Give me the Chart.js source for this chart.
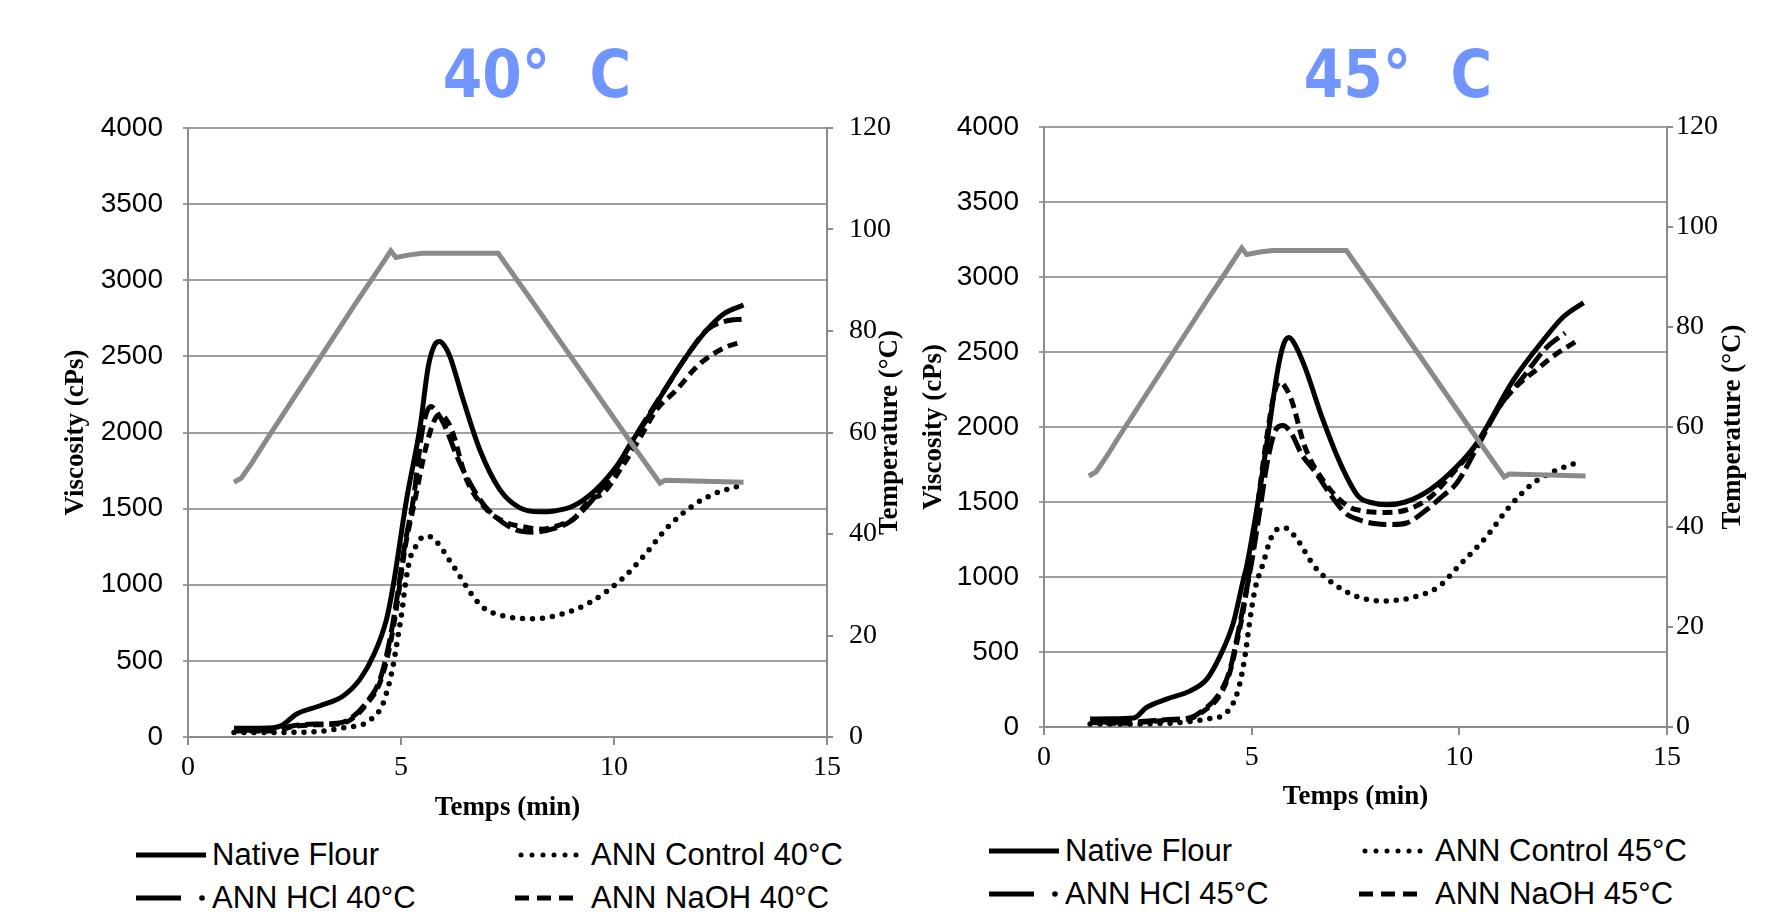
<!DOCTYPE html>
<html>
<head>
<meta charset="utf-8">
<script src="https://cdn.jsdelivr.net/npm/chart.js@4.4.1/dist/chart.umd.min.js"></script>
<style>
    html, body { margin: 0; padding: 0; background: #fff; }
    body { width: 1776px; height: 919px; position: relative; overflow: hidden; font-family: "Liberation Sans", Arial, sans-serif; }
    canvas { position: absolute; top: 0; }
    #chart40 { left: 0; }
    #chart45 { left: 912px; }
    .leg-item { position: absolute; display: flex; align-items: center; height: 40px; font-size: 31px; color: #000; white-space: nowrap; }
    .leg-item svg { margin-right: 6px; flex: none; }
</style>
</head>
<body>
<canvas id="chart40" width="912" height="830"></canvas>
<canvas id="chart45" width="864" height="830"></canvas>
<div id="legend40"></div>
<div id="legend45"></div>

<script>
// Sumbu
const timeTicks = [0, 5, 10, 15];
const viscTicks = [0, 500, 1000, 1500, 2000, 2500, 3000, 3500, 4000];
const tempTicks = [0, 20, 40, 60, 80, 100, 120];

const labels40 = ['Native Flour', 'ANN Control 40°C', 'ANN HCl 40°C', 'ANN NaOH 40°C'];
const labels45 = ['Native Flour', 'ANN Control 45°C', 'ANN HCl 45°C', 'ANN NaOH 45°C'];

// Profil suhu (sama untuk kedua uji)
const tempT = [1.08, 1.25, 1.5, 1.8, 2.5, 3.2, 3.9, 4.5, 4.76, 4.88, 5.2, 5.5, 7.28, 8.0, 9.0, 10.0, 10.5, 11.08, 11.2, 13.04];
const tempV = [50.2, 51, 54, 58, 67, 76, 85, 92.5, 95.8, 94.5, 95, 95.3, 95.3, 86.8, 74.8, 62.8, 56.8, 50.0, 50.6, 50.2];

// 40°C
const native40T = [1.08, 1.5, 2.0, 2.2, 2.55, 3.1, 3.65, 4.04, 4.35, 4.66, 4.82, 5.13, 5.45, 5.64, 5.78, 5.9, 6.02, 6.15, 6.46, 6.85, 7.32, 7.79, 8.26, 8.6, 9.03, 9.56, 10.08, 10.45, 10.74, 11.24, 11.7, 12.18, 12.58, 13.04];
const native40V = [57, 57, 60, 75, 151, 205, 271, 380, 533, 773, 1000, 1560, 2040, 2433, 2570, 2597, 2570, 2499, 2215, 1887, 1625, 1505, 1479, 1485, 1515, 1620, 1786, 1953, 2072, 2302, 2500, 2674, 2780, 2837];
const control40T = [1.08, 2.0, 3.0, 3.73, 4.12, 4.35, 4.55, 4.66, 4.78, 4.86, 4.94, 5.02, 5.1, 5.21, 5.33, 5.49, 5.65, 5.8, 5.92, 6.07, 6.23, 6.38, 6.65, 6.93, 7.45, 8.11, 8.77, 9.43, 10.22, 10.73, 11.26, 11.89, 12.37, 12.92];
const control40V = [30, 30, 35, 64, 85, 129, 200, 290, 420, 540, 680, 820, 1000, 1170, 1243, 1309, 1318, 1290, 1254, 1188, 1122, 1057, 940, 850, 792, 777, 807, 883, 1046, 1199, 1378, 1527, 1599, 1647];
const hcl40T = [1.08, 2.0, 2.5, 3.0, 3.5, 3.8, 4.19, 4.51, 4.74, 4.9, 5.1, 5.29, 5.49, 5.6, 5.7, 5.8, 6.0, 6.38, 6.85, 7.2, 7.7, 8.1, 8.6, 9.0, 9.5, 10.0, 10.45, 11.24, 11.7, 12.18, 12.6, 13.04];
const hcl40V = [45, 45, 75, 85, 90, 118, 227, 380, 642, 904, 1280, 1560, 2000, 2130, 2170, 2150, 2060, 1800, 1560, 1450, 1360, 1345, 1370, 1420, 1560, 1740, 1953, 2302, 2500, 2674, 2730, 2745];
const naoh40T = [1.08, 2.0, 2.5, 3.0, 3.5, 3.8, 4.19, 4.51, 4.74, 4.9, 5.1, 5.3, 5.6, 5.8, 5.92, 6.05, 6.2, 6.54, 7.01, 7.48, 7.9, 8.3, 8.8, 9.04, 9.44, 9.74, 10.2, 10.6, 11.0, 11.47, 11.9, 12.18, 12.65, 12.92];
const naoh40V = [40, 40, 70, 80, 85, 110, 215, 360, 600, 860, 1250, 1520, 1920, 2090, 2117, 2090, 2010, 1690, 1494, 1407, 1380, 1365, 1400, 1430, 1560, 1600, 1780, 1960, 2150, 2280, 2420, 2488, 2564, 2587];

// 45°C
const native45T = [1.11, 1.6, 2.16, 2.47, 2.95, 3.52, 3.92, 4.24, 4.56, 4.8, 4.88, 5.16, 5.4, 5.64, 5.78, 5.9, 6.02, 6.28, 6.69, 7.17, 7.57, 7.9, 8.25, 8.7, 9.29, 9.94, 10.42, 11.3, 12.02, 12.5, 12.99];
const native45V = [53, 55, 60, 131, 186, 241, 319, 474, 696, 983, 1072, 1515, 1958, 2401, 2560, 2596, 2560, 2401, 2068, 1736, 1537, 1495, 1482, 1500, 1581, 1736, 1892, 2312, 2578, 2733, 2829];
const control45T = [1.11, 2.0, 3.0, 3.92, 4.4, 4.68, 4.84, 4.96, 5.08, 5.28, 5.45, 5.63, 5.8, 6.04, 6.48, 6.65, 7.0, 7.47, 8.15, 8.83, 9.51, 9.98, 10.66, 11.18, 11.78, 12.27, 12.79];
const control45V = [20, 20, 25, 53, 98, 252, 474, 718, 917, 1094, 1250, 1320, 1327, 1271, 1083, 1029, 950, 876, 840, 861, 937, 1072, 1271, 1460, 1626, 1703, 1759];
const hcl45T = [1.11, 2.0, 2.5, 3.0, 3.5, 3.76, 4.24, 4.48, 4.64, 4.8, 5.0, 5.2, 5.4, 5.6, 5.75, 5.95, 6.2, 6.53, 6.93, 7.25, 7.6, 8.0, 8.4, 8.73, 9.21, 9.6, 9.94, 10.4, 11.0, 11.5, 12.1, 12.55];
const hcl45V = [35, 30, 40, 50, 60, 98, 230, 385, 585, 806, 1100, 1450, 1800, 1990, 2010, 1960, 1820, 1700, 1537, 1427, 1380, 1355, 1350, 1360, 1448, 1540, 1626, 1850, 2150, 2320, 2530, 2627];
const naoh45T = [1.11, 2.0, 2.5, 3.0, 3.5, 3.76, 4.24, 4.48, 4.64, 4.8, 5.0, 5.2, 5.4, 5.55, 5.68, 5.8, 5.96, 6.28, 6.77, 7.33, 7.7, 8.2, 8.7, 9.29, 9.8, 10.4, 11.0, 11.37, 11.85, 12.3, 12.79];
const naoh45V = [30, 25, 35, 45, 55, 90, 215, 370, 560, 780, 1150, 1600, 2000, 2230, 2301, 2270, 2179, 1869, 1626, 1470, 1440, 1430, 1445, 1530, 1680, 1880, 2150, 2270, 2380, 2480, 2567];

const SANS = '"Liberation Sans", Arial, sans-serif';
const SERIF = '"Liberation Serif", "Times New Roman", serif';

// gaya garis: solid, titik, garis panjang, garis pendek
const lineStyles = [
    { dash: [], cap: 'butt', width: 5 },
    { dash: [0, 10], cap: 'round', width: 5.5 },
    { dash: [18, 6], cap: 'butt', width: 5 },
    { dash: [10, 6], cap: 'butt', width: 5 }
];

// Judul grafik + judul sumbu kanan (dibaca dari bawah ke atas)
const extraTitles = {
    id: 'extraTitles',
    afterDraw(chart, args, opts) {
        const { ctx, chartArea } = chart;
        ctx.save();
        ctx.textAlign = 'center';
        ctx.textBaseline = 'middle';
        ctx.fillStyle = '#7195ff';
        ctx.font = 'bold 66px "DejaVu Sans"';
        ctx.save();
        ctx.translate(opts.mainX, opts.mainY);
        ctx.scale(0.86, 1);
        ctx.fillText(opts.main, 0, 0);
        ctx.restore();
        ctx.translate(chartArea.right + opts.rightGap, (chartArea.top + chartArea.bottom) / 2);
        ctx.rotate(-Math.PI / 2);
        ctx.fillStyle = '#000';
        ctx.font = 'bold 27px ' + SERIF;
        ctx.fillText(opts.right, 0, 0);
        ctx.restore();
    }
};

function fixedTicks(list) {
    return scale => { scale.ticks = list.map(v => ({ value: v })); };
}

function buildChart(canvasId, series, cfg) {
    const datasets = series.map((s, i) => ({
        label: s.label,
        data: s.t.map((t, k) => ({ x: t, y: s.v[k] })),
        borderColor: '#000',
        borderWidth: lineStyles[i].width,
        borderDash: lineStyles[i].dash,
        borderCapStyle: lineStyles[i].cap,
        cubicInterpolationMode: 'monotone',
        pointRadius: 0,
        fill: false,
        yAxisID: 'y'
    }));
    datasets.push({
        label: 'Temperature',
        data: tempT.map((t, k) => ({ x: t, y: tempV[k] })),
        borderColor: '#8a8a8a',
        borderWidth: 5,
        tension: 0,
        pointRadius: 0,
        fill: false,
        yAxisID: 'y1',
        order: -1
    });

    const gridGray = '#a0a0a0';
    const axisGray = '#8c8c8c';

    return new Chart(document.getElementById(canvasId), {
        type: 'line',
        data: { datasets },
        options: {
            responsive: false,
            animation: false,
            events: [],
            layout: { padding: { top: cfg.top, left: 0, right: 0, bottom: 0 } },
            plugins: {
                legend: { display: false },
                tooltip: { enabled: false },
                extraTitles: { main: cfg.title, mainX: cfg.titleX, mainY: 80, right: 'Temperature (°C)', rightGap: cfg.rightGap }
            },
            scales: {
                x: {
                    type: 'linear',
                    min: timeTicks[0], max: timeTicks[timeTicks.length - 1],
                    afterBuildTicks: fixedTicks(timeTicks),
                    ticks: { color: '#000', font: { family: SERIF, size: 28 }, padding: 6, maxRotation: 0 },
                    grid: { drawOnChartArea: false, color: axisGray, lineWidth: 2, tickLength: 8 },
                    border: { color: axisGray, width: 2 },
                    title: { display: true, text: 'Temps (min)', color: '#000', font: { family: SERIF, size: 27, weight: 'bold' }, padding: { top: 0, bottom: cfg.xTitlePad } },
                    afterFit: s => { s.height = cfg.xHeight; }
                },
                y: {
                    position: 'left',
                    min: viscTicks[0], max: viscTicks[viscTicks.length - 1],
                    afterBuildTicks: fixedTicks(viscTicks),
                    ticks: { color: '#000', font: { family: SANS, size: 28 }, padding: 20, callback: v => String(v) },
                    grid: { color: gridGray, lineWidth: 2, tickLength: 5 },
                    border: { color: axisGray, width: 2 },
                    title: { display: true, text: 'Viscosity (cPs)', color: '#000', font: { family: SERIF, size: 27, weight: 'bold' }, padding: { top: cfg.yTitlePad, bottom: 0 } },
                    afterFit: s => { s.width = cfg.leftWidth; }
                },
                y1: {
                    position: 'right',
                    min: tempTicks[0], max: tempTicks[tempTicks.length - 1],
                    afterBuildTicks: fixedTicks(tempTicks),
                    ticks: { color: '#000', font: { family: SERIF, size: 28 }, padding: cfg.rightTickPad, callback: v => String(v) },
                    grid: { drawOnChartArea: false, color: axisGray, lineWidth: 2, tickLength: 6 },
                    border: { color: axisGray, width: 2 },
                    afterFit: s => { s.width = cfg.rightWidth; }
                }
            }
        },
        plugins: [extraTitles]
    });
}

// Legenda HTML, 2 kolom x 2 baris
function sampleSvg(i) {
    const y = 20;
    let body;
    if (i === 0) body = `<line x1="0" y1="${y}" x2="70" y2="${y}" stroke="#000" stroke-width="5"/>`;
    else if (i === 1) body = `<line x1="6" y1="${y}" x2="66" y2="${y}" stroke="#000" stroke-width="5" stroke-linecap="round" stroke-dasharray="0 11"/>`;
    else if (i === 2) body = `<line x1="0" y1="${y}" x2="45" y2="${y}" stroke="#000" stroke-width="5"/><circle cx="66" cy="${y}" r="2.8" fill="#000"/>`;
    else body = `<line x1="0" y1="${y}" x2="66" y2="${y}" stroke="#000" stroke-width="5" stroke-dasharray="14 8"/>`;
    return `<svg width="70" height="40" viewBox="0 0 70 40">${body}</svg>`;
}

function buildLegend(holderId, labels, cols, rows) {
    const holder = document.getElementById(holderId);
    const order = [[0, 0], [1, 0], [2, 1], [3, 1]]; // [seri, baris]
    order.forEach(([idx, row], n) => {
        const el = document.createElement('div');
        el.className = 'leg-item';
        el.style.left = cols[n % 2] + 'px';
        el.style.top = (rows[row] - 20) + 'px';
        el.innerHTML = sampleSvg(idx) + '<span>' + labels[idx] + '</span>';
        holder.appendChild(el);
    });
}

function initCharts() {
    if (typeof Chart === 'undefined') return;

    buildChart('chart40', [
        { label: labels40[0], t: native40T, v: native40V },
        { label: labels40[1], t: control40T, v: control40V },
        { label: labels40[2], t: hcl40T, v: hcl40V },
        { label: labels40[3], t: naoh40T, v: naoh40V }
    ], { title: '40°  C', titleX: 537, top: 128, leftWidth: 188, rightWidth: 912 - 827, xHeight: 830 - 737,
         xTitlePad: 6, yTitlePad: 60, rightGap: 63, rightTickPad: 16 });

    buildChart('chart45', [
        { label: labels45[0], t: native45T, v: native45V },
        { label: labels45[1], t: control45T, v: control45V },
        { label: labels45[2], t: hcl45T, v: hcl45V },
        { label: labels45[3], t: naoh45T, v: naoh45V }
    ], { title: '45°  C', titleX: 1398 - 912, top: 127, leftWidth: 1044 - 912, rightWidth: 1776 - 1667, xHeight: 830 - 727,
         xTitlePad: 17, yTitlePad: 6, rightGap: 66, rightTickPad: 3 });

    buildLegend('legend40', labels40, [136, 515], [855, 898]);
    buildLegend('legend45', labels45, [989, 1359], [851, 894]);
}

initCharts();
</script>
</body>
</html>
